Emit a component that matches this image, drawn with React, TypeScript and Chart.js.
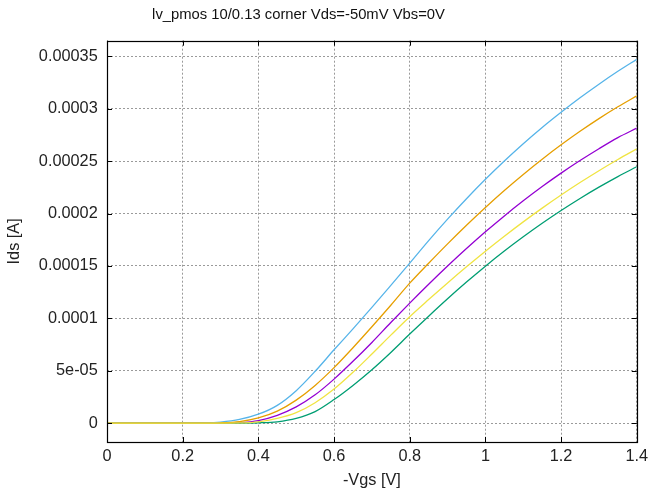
import React, { useEffect, useRef } from "react";
import { Chart, registerables } from "chart.js";

Chart.register(...registerables);

// -Vgs [V]
const vgs = [
  0, 0.05, 0.1, 0.15, 0.2, 0.25, 0.3, 0.35, 0.4, 0.45, 0.5, 0.55, 0.6, 0.65, 0.7,
  0.75, 0.8, 0.85, 0.9, 0.95, 1.0, 1.05, 1.1, 1.15, 1.2, 1.25, 1.3, 1.35, 1.4,
];

// Ids values in microamps (converted to A below)
const idsPurpleUA = [
  0, 0, 0, 0, 0, 0, 0, 0.5, 2.5, 7.5, 15.5, 27, 42, 59, 77,
  96, 114.5, 132.5, 149.9, 166.6, 182.6, 197.8, 212.2, 225.8, 238.6, 250.6, 261.9, 272.5, 281.5,
];
const idsGreenUA = [
  0, 0, 0, 0, 0, 0, 0, 0, 0.3, 1.3, 4.5, 11, 22.5, 36, 51,
  67.5, 85, 102.1, 118.7, 134.6, 149.8, 164.2, 177.8, 190.7, 202.9, 214.4, 225.2, 235.3, 244.7,
];
const idsBlueUA = [
  0, 0, 0, 0, 0, 0, 1.0, 3.5, 8.5, 17, 31, 49.5, 70, 90, 110.5,
  131.5, 152.7, 174.2, 194.7, 214.2, 232.7, 250.2, 266.7, 282.2, 296.7, 310.5, 323.5, 335.8, 347.3,
];
const idsOrangeUA = [
  0, 0, 0, 0, 0, 0, 0.3, 1.5, 5, 11.5, 22, 36, 53, 72, 92,
  112.5, 133.6, 152.6, 171.1, 188.9, 205.9, 222.1, 237.4, 251.9, 265.6, 278.5, 290.6, 301.9, 312.4,
];
const idsYellowUA = [
  0, 0, 0, 0, 0, 0, 0, 0.2, 1.3, 4.5, 10, 19.5, 32.5, 48.5, 66,
  84, 101.6, 117.9, 133.8, 149.2, 164.1, 178.4, 192.1, 205.2, 217.7, 229.6, 240.9, 251.6, 261.7,
];

const xTickLabels = ["0", "0.2", "0.4", "0.6", "0.8", "1", "1.2", "1.4"];
const yTickLabels = ["0", "5e-05", "0.0001", "0.00015", "0.0002", "0.00025", "0.0003", "0.00035"];

const titleText = "lv_pmos 10/0.13 corner Vds=-50mV Vbs=0V";
const xTitle = "-Vgs [V]";
const yTitle = "Ids [A]";

const FONT = "'Liberation Sans', Arial, sans-serif";

const toPoints = (ua: number[]) => ua.map((v, i) => ({ x: vgs[i], y: v * 1e-6 }));

const frameTicksPlugin = {
  id: "frameTicks",
  afterDatasetsDraw(chart: any) {
    const { ctx, chartArea } = chart;
    const { left, right, top, bottom } = chartArea;
    const xs = chart.scales.x;
    const ys = chart.scales.y;
    const L = 5;
    ctx.save();
    ctx.strokeStyle = "#000";
    ctx.lineWidth = 1;
    ctx.setLineDash([]);
    ctx.beginPath();
    xs.ticks.forEach((t: any) => {
      const px = Math.round(xs.getPixelForValue(t.value)) + 0.5;
      ctx.moveTo(px, bottom);
      ctx.lineTo(px, bottom - L);
      ctx.moveTo(px, top);
      ctx.lineTo(px, top + L);
    });
    ys.ticks.forEach((t: any) => {
      const py = Math.round(ys.getPixelForValue(t.value)) + 0.5;
      ctx.moveTo(left, py);
      ctx.lineTo(left + L, py);
      ctx.moveTo(right, py);
      ctx.lineTo(right - L, py);
    });
    ctx.stroke();
    ctx.lineWidth = 1.2;
    ctx.strokeRect(Math.round(left) + 0.5, Math.round(top) + 0.5, Math.round(right - left), Math.round(bottom - top));
    ctx.restore();
  },
  afterDraw(chart: any) {
    const { ctx } = chart;
    ctx.save();
    ctx.font = `14.8px ${FONT}`;
    ctx.fillStyle = "#111";
    ctx.textAlign = "center";
    ctx.textBaseline = "middle";
    ctx.fillText(titleText, 298.5, 15);
    ctx.restore();
  },
};

const bgPlugin = {
  id: "bg",
  beforeDraw(chart: any) {
    const { ctx, width, height } = chart;
    ctx.save();
    ctx.fillStyle = "#fff";
    ctx.fillRect(0, 0, width, height);
    ctx.restore();
  },
};

export default function App() {
  const ref = useRef<HTMLCanvasElement | null>(null);

  useEffect(() => {
    if (!ref.current) return;
    const mk = (label: string, data: number[], color: string, order: number) => ({
      label,
      data: toPoints(data),
      borderColor: color,
      backgroundColor: color,
      borderWidth: 1.3,
      pointRadius: 0,
      fill: false,
      cubicInterpolationMode: "monotone" as const,
      order,
    });
    const chart = new Chart(ref.current, {
      type: "line",
      data: {
        datasets: [
          mk("1", idsPurpleUA, "#9400d3", 5),
          mk("2", idsGreenUA, "#009e73", 4),
          mk("3", idsBlueUA, "#56b4e9", 3),
          mk("4", idsOrangeUA, "#e69f00", 2),
          mk("5", idsYellowUA, "#f0e442", 1),
        ],
      },
      options: {
        animation: false,
        responsive: false,
        devicePixelRatio: 1,
        layout: { padding: { left: 0, right: 13, top: 40.7, bottom: 0 } },
        plugins: {
          legend: { display: false },
          tooltip: { enabled: false },
          title: { display: false },
        },
        scales: {
          x: {
            type: "linear",
            min: 0,
            max: 1.4,
            border: { display: false, dash: [2, 2] },
            grid: { color: "#9a9a9a", lineWidth: 1, drawTicks: false, tickLength: 0 },
            ticks: {
              stepSize: 0.2,
              padding: 4.9,
              color: "#222",
              font: { family: FONT, size: 16.3 },
              maxRotation: 0,
              autoSkip: false,
              callback: (v: any) => xTickLabels[Math.round(Number(v) / 0.2)] ?? "",
            },
            title: {
              display: true,
              text: xTitle,
              color: "#222",
              font: { family: FONT, size: 16.3 },
              padding: { top: 0, bottom: 5.2 },
            },
            afterFit: (s: any) => {
              s.height = 53;
            },
          },
          y: {
            type: "linear",
            min: -1.8e-5,
            max: 3.65e-4,
            border: { display: false, dash: [2, 2] },
            grid: { color: "#9a9a9a", lineWidth: 1, drawTicks: false, tickLength: 0 },
            ticks: {
              stepSize: 5e-5,
              includeBounds: false,
              padding: 9.3,
              color: "#222",
              font: { family: FONT, size: 16.3 },
              autoSkip: false,
              callback: (v: any) => yTickLabels[Math.round(Number(v) / 5e-5)] ?? "",
            },
            title: {
              display: true,
              text: yTitle,
              color: "#222",
              font: { family: FONT, size: 16.3 },
              padding: { top: 5.2, bottom: 0 },
            },
            afterFit: (s: any) => {
              s.width = 107;
            },
          },
        },
      },
      plugins: [bgPlugin, frameTicksPlugin],
    } as any);
    return () => chart.destroy();
  }, []);

  return (
    <div style={{ position: "fixed", left: 0, top: 0, width: 653, height: 495, background: "#fff" }}>
      <canvas ref={ref} width={653} height={495} style={{ display: "block", width: 653, height: 495 }} />
    </div>
  );
}
